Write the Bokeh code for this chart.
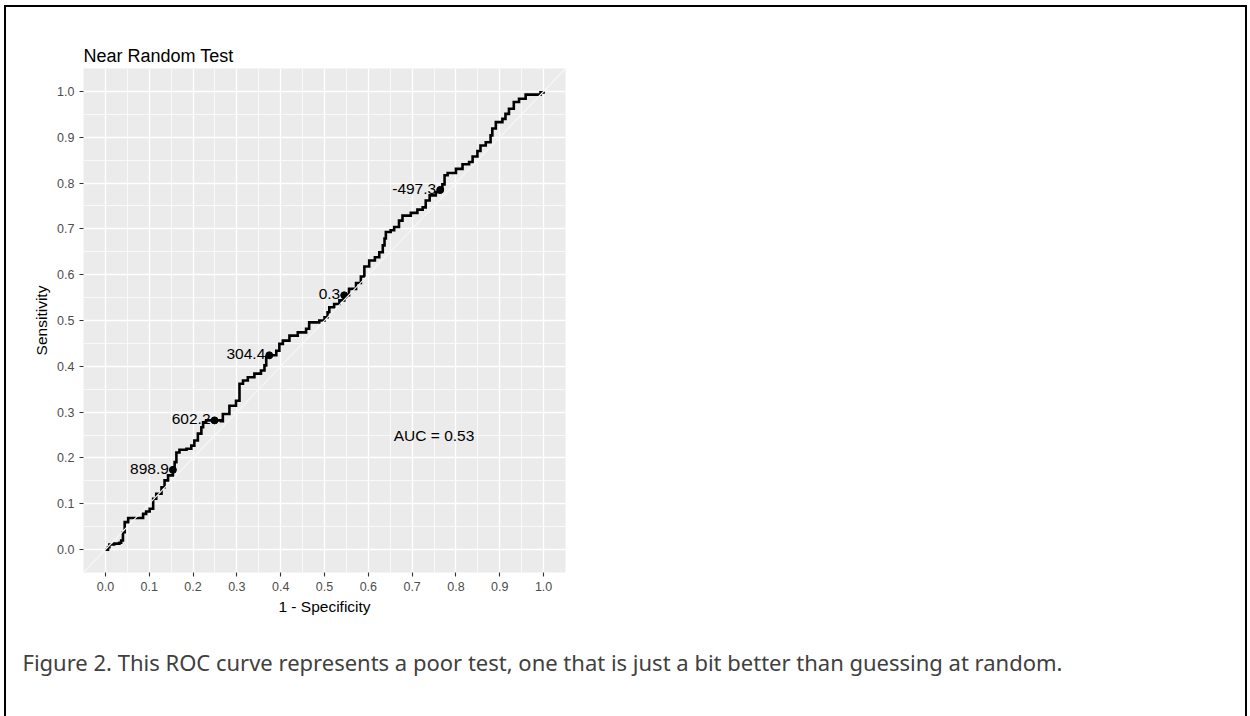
from bokeh.plotting import figure
from bokeh.models import (FixedTicker, NumeralTickFormatter, Slope, ColumnDataSource,
                          LabelSet, Title, InlineStyleSheet)
from bokeh.core.properties import value
from bokeh.embed import file_html
from bokeh.resources import INLINE

# ROC curve: false positive rate (1 - specificity) vs true positive rate (sensitivity)
fpr = [0.000, 0.006, 0.009, 0.020, 0.032, 0.036, 0.040, 0.044, 0.052, 0.074,
       0.086, 0.093, 0.101, 0.109, 0.116, 0.128, 0.135, 0.143, 0.154, 0.158,
       0.162, 0.169, 0.185, 0.196, 0.203, 0.211, 0.219, 0.223, 0.230, 0.249,
       0.264, 0.268, 0.283, 0.298, 0.306, 0.314, 0.325, 0.340, 0.355, 0.363,
       0.367, 0.374, 0.390, 0.397, 0.405, 0.420, 0.439, 0.458, 0.465, 0.488,
       0.500, 0.507, 0.511, 0.522, 0.534, 0.545, 0.556, 0.572, 0.583, 0.591,
       0.602, 0.615, 0.625, 0.633, 0.637, 0.640, 0.651, 0.659, 0.670, 0.678,
       0.697, 0.712, 0.724, 0.731, 0.740, 0.754, 0.764, 0.769, 0.774, 0.781,
       0.800, 0.815, 0.830, 0.838, 0.849, 0.856, 0.868, 0.879, 0.883, 0.891,
       0.906, 0.913, 0.921, 0.932, 0.944, 0.959, 0.986, 0.993, 1.000]
tpr = [0.000, 0.005, 0.011, 0.013, 0.015, 0.020, 0.038, 0.060, 0.069, 0.069,
       0.078, 0.083, 0.089, 0.111, 0.122, 0.136, 0.151, 0.162, 0.174, 0.191,
       0.212, 0.218, 0.220, 0.227, 0.238, 0.253, 0.267, 0.278, 0.282, 0.282,
       0.280, 0.296, 0.314, 0.325, 0.362, 0.369, 0.376, 0.384, 0.391, 0.402,
       0.420, 0.424, 0.434, 0.449, 0.456, 0.467, 0.474, 0.482, 0.496, 0.500,
       0.507, 0.518, 0.529, 0.536, 0.544, 0.555, 0.569, 0.582, 0.596, 0.618,
       0.631, 0.638, 0.649, 0.664, 0.679, 0.693, 0.697, 0.704, 0.718, 0.729,
       0.735, 0.742, 0.747, 0.762, 0.773, 0.780, 0.785, 0.797, 0.817, 0.822,
       0.831, 0.841, 0.846, 0.858, 0.870, 0.882, 0.889, 0.904, 0.919, 0.933,
       0.940, 0.951, 0.962, 0.977, 0.984, 0.993, 0.993, 0.998, 1.000]

# selected cut-off thresholds marked on the curve
thr_fpr = [0.154, 0.249, 0.374, 0.545, 0.764]
thr_tpr = [0.174, 0.282, 0.424, 0.555, 0.785]
thr_labels = ["898.9", "602.2", "304.4", "0.3", "-497.3"]

auc = 0.53
tick_values = [0.0, 0.1, 0.2, 0.3, 0.4, 0.5, 0.6, 0.7, 0.8, 0.9, 1.0]
minor_values = [0.05, 0.15, 0.25, 0.35, 0.45, 0.55, 0.65, 0.75, 0.85, 0.95]

title = "Near Random Test"
caption = ("Figure 2. This ROC curve represents a poor test, one that is just "
           "a bit better than guessing at random.")

W, H = 1250, 716
FL, FR, FT, FB = 83, 565, 68, 572   # plot frame edges in page pixels

p = figure(width=W, height=H, x_range=(-0.05, 1.05), y_range=(-0.05, 1.05),
           output_backend="svg", toolbar_location=None,
           min_border_left=FL, min_border_right=W - FR,
           min_border_top=FT, min_border_bottom=H - FB,
           background_fill_color="#EBEBEB", border_fill_color="white",
           outline_line_color=None, title=title)

p.title.text_font = "Liberation Sans"
p.title.text_font_size = "18px"
p.title.text_font_style = "normal"
p.title.text_color = "black"
p.title.align = "left"
p.title.standoff = 6

ticker = FixedTicker(ticks=tick_values, minor_ticks=minor_values)
for axis in (p.xaxis[0], p.yaxis[0]):
    axis.ticker = ticker
    axis.formatter = NumeralTickFormatter(format="0.0")
    axis.axis_line_color = None
    axis.major_tick_line_color = "#333333"
    axis.major_tick_line_width = 1.1
    axis.major_tick_in = 0
    axis.major_tick_out = 4
    axis.minor_tick_line_color = None
    axis.major_label_text_color = "#4D4D4D"
    axis.major_label_text_font = "Liberation Sans"
    axis.major_label_text_font_size = "12.5px"
    axis.major_label_standoff = 5
    axis.axis_label_text_font = "Liberation Sans"
    axis.axis_label_text_font_size = "15.5px"
    axis.axis_label_text_font_style = "normal"
    axis.axis_label_text_color = "black"
    axis.axis_label_standoff = 4
p.xaxis.axis_label = "1 - Specificity"
p.yaxis.axis_label = "Sensitivity"

for grid in (p.xgrid[0], p.ygrid[0]):
    grid.ticker = ticker
    grid.grid_line_color = "white"
    grid.grid_line_width = 1.3
    grid.minor_grid_line_color = "white"
    grid.minor_grid_line_width = 0.7

# empirical ROC curve as a staircase
p.step(fpr, tpr, mode="after", line_color="black", line_width=2.6, line_join="miter")
p.scatter(thr_fpr, thr_tpr, size=7, color="black")

thr_src = ColumnDataSource(dict(x=thr_fpr, y=thr_tpr, text=thr_labels))
p.add_layout(LabelSet(x="x", y="y", text="text", source=thr_src,
                      x_offset=-4, y_offset=1, text_align="right", text_baseline="middle",
                      text_font=value("Liberation Sans"), text_font_size="15.5px",
                      text_color="black"))

p.text(x=[0.75], y=[0.25], text=[f"AUC = {auc:.2f}"], text_align="center",
       text_baseline="middle", text_font=value("Liberation Sans"),
       text_font_size="15.5px", text_color="black")

# chance diagonal on top of the curve
p.add_layout(Slope(gradient=1, y_intercept=0, line_color="#F7F7F7", line_width=1.1))

# figure caption below the chart
p.add_layout(Title(text=caption, align="left", offset=22 - FL, standoff=54,
                   text_font="Noto Sans", text_font_size="22px",
                   text_font_style="normal", text_color="#404040"), "below")

# thin black frame around the whole figure (open at the bottom edge)
p.stylesheets = [InlineStyleSheet(css="""
:host { overflow: visible; }
:host::after {
  content: ""; position: absolute; left: 4px; top: 5px; width: 1243px; height: 711px;
  border: 2px solid black; border-bottom: none; box-sizing: border-box;
  pointer-events: none; z-index: 10;
}
""")]

open("out.html", "w").write(file_html(p, INLINE))
